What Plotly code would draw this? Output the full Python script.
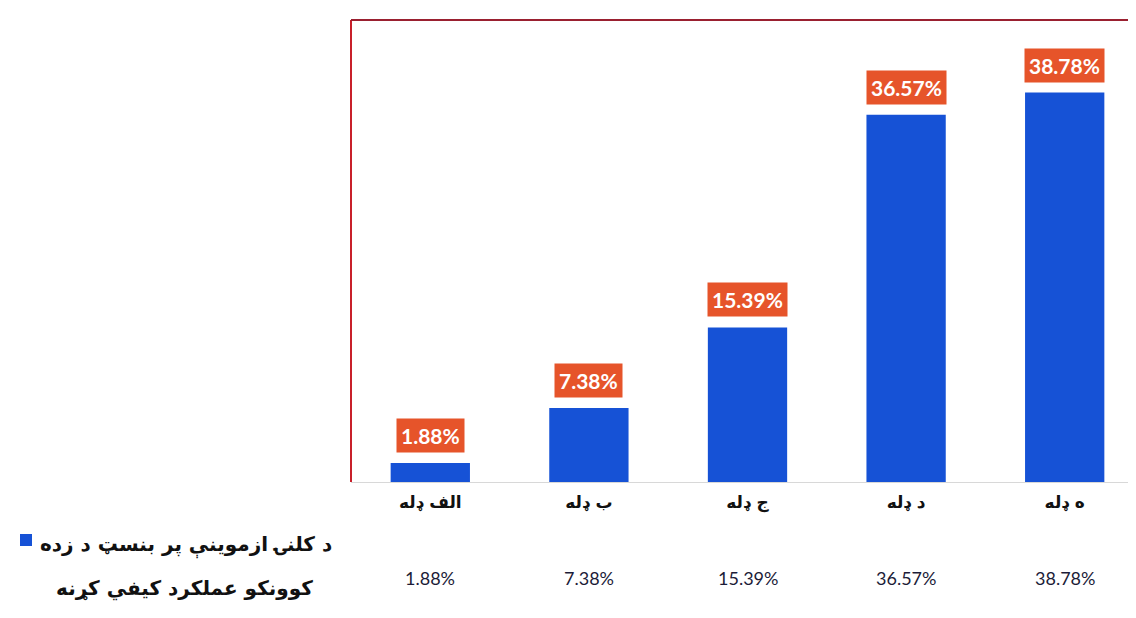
import plotly.graph_objects as go

# ---- data ----
categories = ["الف ډله", "ب ډله", "ج ډله", "د ډله", "ه ډله"]
values = [1.88, 7.38, 15.39, 36.57, 38.78]
value_labels = ["1.88%", "7.38%", "15.39%", "36.57%", "38.78%"]
series_line1 = "د کلنۍ ازموینې پر بنسټ د زده"
series_line2 = "کوونکو عملکرد کیفي کړنه"

BLUE = "#1652D6"
ORANGE = "#E6542A"
W, H = 1136, 618
ML, MR, MT, MB = 343, 0, 12, 144
PW, PH = W - ML - MR, H - MT - MB

def px_x(px):
    return (px - ML) / PW

def px_y(py):
    return (H - MB - py) / PH

fig = go.Figure()
fig.add_trace(go.Bar(
    x=categories, y=values, marker_color=BLUE, marker_line_width=0,
    name=series_line1 + " " + series_line2, showlegend=False,
    hoverinfo="skip",
))

annotations = []
# orange value boxes above bars
for c, v, t in zip(categories, values, value_labels):
    annotations.append(dict(
        x=c, y=v, xref="x", yref="y", text="<b>" + t + "</b>",
        showarrow=False, yanchor="bottom", yshift=10,
        font=dict(family="Lato, Liberation Sans, sans-serif", size=21, color="white"),
        bgcolor=ORANGE, borderpad=4,
    ))
# data table row
for c, t in zip(categories, value_labels):
    annotations.append(dict(
        x=c, y=px_y(570), xref="x", yref="paper", text=t,
        showarrow=False, yanchor="middle",
        font=dict(family="Lato, Liberation Sans, sans-serif", size=18, color="#1c1c38"),
    ))
# legend text (series name)
annotations.append(dict(
    x=px_x(178), y=px_y(537), xref="paper", yref="paper",
    text="<b>" + series_line1 + "</b>", showarrow=False,
    xanchor="center", yanchor="middle",
    font=dict(family="DejaVu Sans, sans-serif", size=20, color="#111"),
))
annotations.append(dict(
    x=px_x(176), y=px_y(580), xref="paper", yref="paper",
    text="<b>" + series_line2 + "</b>", showarrow=False,
    xanchor="center", yanchor="middle",
    font=dict(family="DejaVu Sans, sans-serif", size=20, color="#111"),
))

shapes = [
    # legend key
    dict(type="rect", xref="paper", yref="paper",
         x0=px_x(12), x1=px_x(24), y0=px_y(538), y1=px_y(526),
         fillcolor=BLUE, line_width=0),
    # red frame: left and top
    dict(type="line", xref="paper", yref="paper", x0=0, x1=0, y0=0, y1=1,
         line=dict(color="#C8202A", width=2)),
    dict(type="line", xref="paper", yref="paper", x0=0, x1=1, y0=1, y1=1,
         line=dict(color="#9A2030", width=2)),
]

fig.update_layout(
    width=W, height=H,
    margin=dict(l=ML, r=MR, t=MT, b=MB),
    paper_bgcolor="white", plot_bgcolor="white",
    bargap=0.5,
    annotations=annotations, shapes=shapes,
    xaxis=dict(
        tickmode="array", tickvals=categories,
        ticktext=["<b>" + c + "</b>" for c in categories],
        tickfont=dict(family="DejaVu Sans, sans-serif", size=17, color="#111"),
        showline=True, linecolor="#d8d8d8", linewidth=1,
        ticks="", showgrid=False, ticklabelstandoff=5,
    ),
    yaxis=dict(range=[0, 46], visible=False, showgrid=False),
)

fig.write_html("out.html")
